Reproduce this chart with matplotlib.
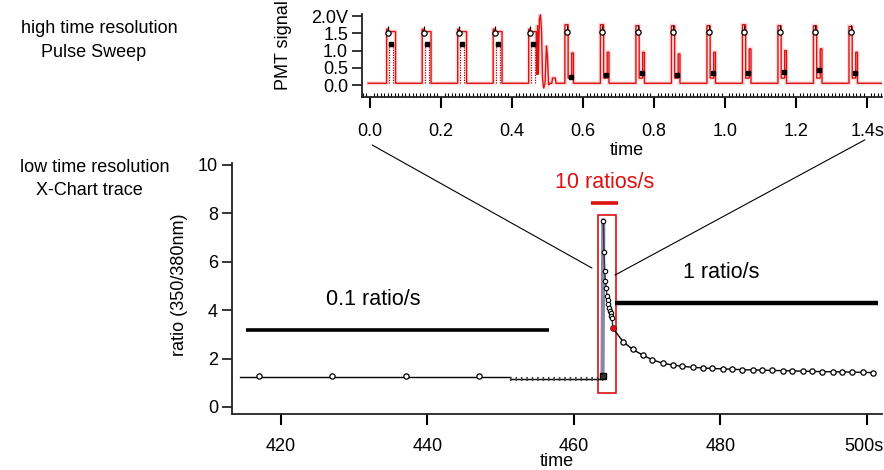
import matplotlib.pyplot as plt
import matplotlib.transforms as mtransforms
from matplotlib.patches import Rectangle, ConnectionPatch
from matplotlib.ticker import MultipleLocator, FixedLocator, FixedFormatter

plt.rcParams['font.family'] = ['Liberation Sans', 'DejaVu Sans']
plt.rcParams['font.size'] = 13

W, H = 884, 470  # output size in pixels

# ---- top panel: high time resolution pulse sweep (PMT signal, V) ----
pulse_on = [0.047, 0.147, 0.247, 0.347, 0.447, 0.549, 0.649, 0.749,
            0.849, 0.949, 1.049, 1.149, 1.249, 1.349]
pulse_top = [1.62, 1.62, 1.62, 1.62, 1.62, 1.75, 1.75, 1.72, 1.72,
             1.72, 1.75, 1.72, 1.72, 1.70]
pulse_bump = [0.0, 0.0, 0.0, 0.0, 0.0, 0.93, 0.95, 0.95, 0.90, 0.95,
              1.05, 1.00, 1.05, 0.95]
ratio_hi = [1.52, 1.52, 1.52, 1.52, 1.52, 1.55, 1.55, 1.55, 1.55,
            1.55, 1.55, 1.55, 1.55, 1.55]
ratio_lo = [1.19, 1.19, 1.19, 1.19, 1.19, 0.23, 0.29, 0.35, 0.29,
            0.35, 0.35, 0.39, 0.43, 0.35]
baseline = 0.05
# artefact spikes after the 5th pulse
spike_t = [0.468, 0.470, 0.472, 0.474, 0.477, 0.480, 0.483, 0.486, 0.489,
           0.493, 0.497, 0.500, 0.503, 0.506, 0.512, 0.514, 0.522, 0.524]
spike_v = [1.55, 0.30, 1.74, 0.30, 1.90, 2.05, 1.60, 0.20, -0.10,
           0.05, 1.15, 0.80, 0.00, 0.05, 0.05, 0.20, 0.20, 0.05]

top_xticks = [0.0, 0.2, 0.4, 0.6, 0.8, 1.0, 1.2, 1.4]
top_xlabels = ['0.0', '0.2', '0.4', '0.6', '0.8', '1.0', '1.2', '1.4s']
top_yticks = [0.0, 0.5, 1.0, 1.5, 2.0]
top_ylabels = ['0.0', '0.5', '1.0', '1.5', '2.0V']

# ---- bottom panel: low time resolution X-chart trace (ratio 350/380) ----
base_t = [414.4, 451.3]
base_r = [1.25, 1.25]
hold_t = [451.3, 463.9]
hold_r = [1.17, 1.17]
slow_t = [417, 427, 437, 447]
slow_r = [1.28, 1.28, 1.28, 1.27]
fast_t = [463.9, 464.0, 464.1, 464.2, 464.3, 464.4, 464.5, 464.6, 464.7,
          464.8, 464.9, 465.0, 465.1, 465.2]
fast_r = [1.30, 7.70, 6.40, 5.60, 5.20, 4.90, 4.60, 4.40, 4.25, 4.10,
          3.98, 3.87, 3.77, 3.68]
decay_t = [465.3, 466.7, 468.0, 469.4, 470.7, 472.1, 473.5, 474.8, 476.2,
           477.6, 478.9, 480.3, 481.6, 483.0, 484.4, 485.7, 487.1, 488.5,
           489.8, 491.2, 492.5, 493.9, 495.3, 496.6, 498.0, 499.4, 500.8]
decay_r = [3.26, 2.70, 2.38, 2.14, 1.95, 1.81, 1.73, 1.68, 1.64, 1.61,
           1.59, 1.575, 1.56, 1.54, 1.53, 1.52, 1.51, 1.50, 1.49, 1.48,
           1.47, 1.46, 1.455, 1.45, 1.44, 1.43, 1.42]

bot_xticks = [420, 440, 460, 480, 500]
bot_xlabels = ['420', '440', '460', '480', '500s']
bot_yticks = [0, 2, 4, 6, 8, 10]

red = '#dd1111'


def fx(px):
    return px / W


def fy(py):
    return 1 - py / H


def pulse_trace():
    t, v = [-0.005], [baseline]
    for i, on in enumerate(pulse_on):
        top = pulse_top[i]
        if i == 4:
            t += [on, on, on + 0.004, on + 0.004]
            v += [baseline, top, top, 1.55]
            t += spike_t
            v += spike_v
        elif pulse_bump[i] == 0:
            t += [on, on, on + 0.004, on + 0.004, on + 0.025, on + 0.025]
            v += [baseline, top, top, 1.55, 1.55, baseline]
        else:
            b = pulse_bump[i]
            t += [on, on, on + 0.009, on + 0.009, on + 0.019, on + 0.019,
                  on + 0.024, on + 0.024]
            v += [baseline, top, top, 0.2, 0.2, b, b, baseline]
    t.append(1.445)
    v.append(baseline)
    return t, v


fig = plt.figure(figsize=(W / 100, H / 100), dpi=100)
fig.patch.set_facecolor('white')

ax1 = fig.add_axes([fx(362), fy(97), fx(882) - fx(362), fy(14) - fy(97)])
ax2 = fig.add_axes([fx(232), fy(414), fx(882) - fx(232), fy(163) - fy(414)])

# top trace
tt, tv = pulse_trace()
ax1.plot(tt, tv, color='#f4a0a0', lw=3.0, alpha=0.35, solid_joinstyle='miter')
ax1.plot(tt, tv, color=red, lw=1.0, solid_joinstyle='miter')
for i, on in enumerate(pulse_on[:5]):
    ax1.vlines([on + 0.007, on + 0.019], baseline, ratio_lo[i],
               colors='#991111', lw=0.9, linestyles=(0, (1, 1)))
hi_t = [on + 0.005 for on in pulse_on]
lo_t = [on + 0.013 if pulse_bump[i] == 0 else on + 0.016
        for i, on in enumerate(pulse_on)]
ax1.vlines(hi_t, ratio_hi, [r + 0.2 for r in ratio_hi], colors='k', lw=0.8)
ax1.plot(hi_t, ratio_hi, 'o', ms=3.8, mfc='white', mec='k', mew=0.9)
ax1.plot(lo_t, ratio_lo, 's', ms=3.2, mfc='k', mec='k')

ax1.set_xlim(-0.0225, 1.442)
ax1.set_ylim(-0.348, 2.06)
ax1.xaxis.set_major_locator(FixedLocator(top_xticks))
ax1.xaxis.set_major_formatter(FixedFormatter(top_xlabels))
ax1.xaxis.set_minor_locator(MultipleLocator(0.01))
ax1.yaxis.set_major_locator(FixedLocator(top_yticks))
ax1.yaxis.set_major_formatter(FixedFormatter(top_ylabels))
ax1.tick_params(axis='x', which='major', direction='out', length=8,
                width=1.5, pad=11)
ax1.tick_params(axis='x', which='minor', direction='in', length=3, width=0.8)
ax1.tick_params(axis='y', which='major', direction='out', length=7,
                width=1.1, pad=3)

# bottom trace
ax2.plot(base_t, base_r, color='k', lw=1.0)
ax2.plot(hold_t, hold_r, color='k', lw=1.0)
ax2.plot(hold_t, hold_r, color='#444444', lw=3.0, linestyle=(0, (0.4, 0.9)))
ax2.plot(slow_t, slow_r, 'o', ms=3.8, mfc='white', mec='k', mew=0.9)
ax2.plot(fast_t[:2], fast_r[:2], color='#8a86a8', lw=3.0)
ax2.plot(fast_t[1:] + decay_t[:1], fast_r[1:] + decay_r[:1], color='#333344', lw=1.0)
ax2.plot(fast_t[1:], fast_r[1:], 'o', ms=3.2, mfc='white', mec='k', mew=0.8)
ax2.plot(fast_t[0], fast_r[0], 's', ms=4.2, mfc='#333333', mec='k')
ax2.plot(decay_t, decay_r, '-o', color='k', lw=1.0, ms=3.8, mfc='white',
         mec='k', mew=0.9)
ax2.plot(decay_t[0], decay_r[0], 'o', ms=3.2, color=red)

# sampling-rate bars and labels
ax2.hlines(3.18, 415.2, 456.6, colors='k', lw=2.6)
ax2.hlines(4.31, 465.6, 501.5, colors='k', lw=3.2, clip_on=False)
ax2.hlines(8.44, 462.3, 466.05, colors=red, lw=2.6)
ax2.add_patch(Rectangle((463.3, 0.58), 2.5, 7.35, fill=False,
                        edgecolor=red, lw=1.2))
ax2.text(464.2, 9.26, '10 ratios/s', color=red, fontsize=15.5,
         ha='center', va='center')
ax2.text(480.1, 5.54, '1 ratio/s', fontsize=15.5, ha='center', va='center')
ax2.text(432.6, 4.46, '0.1 ratio/s', fontsize=15.5, ha='center', va='center')

ax2.set_xlim(413.31, 502.05)
ax2.set_ylim(-0.29, 10.08)
ax2.xaxis.set_major_locator(FixedLocator(bot_xticks))
ax2.xaxis.set_major_formatter(FixedFormatter(bot_xlabels))
ax2.yaxis.set_major_locator(FixedLocator(bot_yticks))
ax2.tick_params(axis='x', direction='out', length=8, width=1.5, pad=9)
ax2.tick_params(axis='y', direction='out', length=7, width=1.1, pad=3)

# keep the last tick label ("500s") inside the figure edge
last = ax2.xaxis.get_major_ticks()[-1].label1
last.set_transform(last.get_transform() +
                   mtransforms.ScaledTranslation(-3 / 100, 0, fig.dpi_scale_trans))

for ax in (ax1, ax2):
    for s in ('top', 'right'):
        ax.spines[s].set_visible(False)
    for s in ('left', 'bottom'):
        ax.spines[s].set_linewidth(1.3)
        ax.spines[s].set_color('#222222')

# zoom lines from the sweep to the 10 ratios/s burst
for a, b in [((0.006, -1.74), (462.45, 5.74)), ((1.394, -1.59), (465.6, 5.45))]:
    con = ConnectionPatch(xyA=a, coordsA=ax1.transData, xyB=b,
                          coordsB=ax2.transData, color='k', lw=0.8)
    fig.add_artist(con)

# axis labels and panel captions
fig.text(fx(284), fy(45), 'PMT signal', rotation=90, ha='center', va='center')
fig.text(fx(179), fy(285), 'ratio (350/380nm)', rotation=90, ha='center',
         va='center')
fig.text(fx(627), fy(155), 'time', ha='center', va='baseline')
fig.text(fx(557), fy(466), 'time', ha='center', va='baseline')
fig.text(fx(99), fy(33), 'high time resolution', ha='center', va='baseline')
fig.text(fx(94), fy(57), 'Pulse Sweep', ha='center', va='baseline')
fig.text(fx(95), fy(172), 'low time resolution', ha='center', va='baseline')
fig.text(fx(89), fy(195), 'X-Chart trace', ha='center', va='baseline')

fig.savefig('out.png', dpi=100)
